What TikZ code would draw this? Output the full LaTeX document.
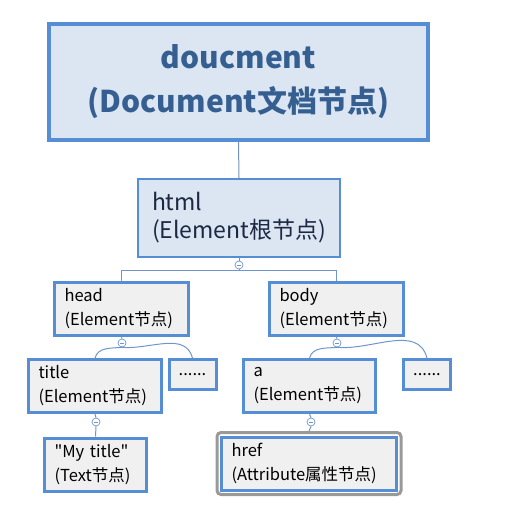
\documentclass[tikz,border=0pt]{standalone}
\usepackage{fontspec}
\setmainfont{Noto Sans CJK SC}
\newfontfamily\plainquote{Noto Sans CJK SC}
\usetikzlibrary{fit}

\definecolor{boxblue}{RGB}{85,142,213}
\definecolor{docfill}{RGB}{220,230,242}
\definecolor{docink}{RGB}{54,95,145}
\definecolor{htmlink}{RGB}{28,40,68}
\definecolor{nodefill}{RGB}{240,240,240}
\definecolor{linkblue}{RGB}{110,150,205}

\begin{document}
\begin{tikzpicture}[x=1pt, y=-1pt,
	every node/.append style={execute at begin node={\hyphenpenalty=10000}},
	docbox/.style={draw=boxblue, line width=4pt, fill=docfill, text=docink, align=center,
		font=\fontsize{30}{44}\selectfont\bfseries, minimum width=379pt, minimum height=116pt},
	rootbox/.style={draw=boxblue, line width=2pt, fill=docfill, text=htmlink, align=left,
		font=\fontsize{23}{28}\selectfont, inner xsep=14pt, minimum height=78pt},
	elembox/.style={draw=boxblue, line width=3pt, fill=nodefill, align=left,
		font=\fontsize{16.5}{24}\selectfont, inner xsep=10pt, minimum height=53pt},
	dotbox/.style={elembox, minimum height=30pt, minimum width=47pt, inner xsep=4pt, align=center},
	attrframe/.style={draw=gray!80, line width=3pt, rounded corners=4pt, inner sep=3pt},
	fold/.style={circle, draw=linkblue, fill=white, line width=0.7pt, minimum size=8pt, inner sep=0pt,
		path picture={\draw[linkblue, line width=0.7pt] ([xshift=-2.2pt]path picture bounding box.center) -- ([xshift=2.2pt]path picture bounding box.center);}},
	link/.style={draw=linkblue, line width=1pt}]
	\useasboundingbox (0,0) rectangle (526,511);
	% document and root
	\node[docbox] (doc) at (238.5,82) {doucment\\(Document文档节点)};
	\node[rootbox, text width=174pt] (html) at (239,218) {html\\(Element根节点)};
	\draw[link, draw=linkblue!80!gray] (doc.south) -- (html.north);
	\node[fold] (f0) at (239,265) {};
	\draw[link] (html.south) -- (f0.north);
	% head and body
	\node[elembox, text width=114pt] (head) at (121.5,308.5) {head\\(Element节点)};
	\node[elembox, text width=114pt] (body) at (336.5,308.5) {body\\(Element节点)};
	\draw[link] (f0.south) -- ++(0,1.5) -| (head.north);
	\draw[link] (f0.south) -- ++(0,1.5) -| (body.north);
	\node[fold] (f1) at (122,343) {};
	\node[fold] (f2) at (337,343) {};
	\draw[link] (head.south) -- (f1.north);
	\draw[link] (body.south) -- (f2.north);
	% children of head
	\node[elembox, text width=113pt] (title) at (95,386) {title\\(Element节点)};
	\node[dotbox] (dots1) at (192.5,374.5) {......};
	\draw[link] (f1.south) to[out=185, in=75] (title.north);
	\draw[link] (f1.south) to[out=-5, in=105] (dots1.north);
	% children of body
	\node[elembox, text width=112pt] (a) at (309.5,386) {a\\(Element节点)};
	\node[dotbox] (dots2) at (427,374.5) {......};
	\draw[link] (f2.south) to[out=185, in=75] (a.north);
	\draw[link] (f2.south) to[out=-5, in=105] (dots2.north);
	% leaves
	\node[fold] (f3) at (96,422) {};
	\node[fold] (f4) at (311,422) {};
	\draw[link] (title.south) -- (f3.north);
	\draw[link] (a.south) -- (f4.north);
	\node[elembox, text width=82pt] (text) at (95.5,464.5) {{\plainquote "My title"}\\(Text节点)};
	\node[elembox, text width=155pt] (href) at (309,463.5) {href\\(Attribute属性节点)};
	\node[attrframe, fit=(href)] (hrefframe) {};
	\draw[link] (f3.south) -- (text.north);
	\draw[link] (f4.south) -- (hrefframe.north);
\end{tikzpicture}
\end{document}
